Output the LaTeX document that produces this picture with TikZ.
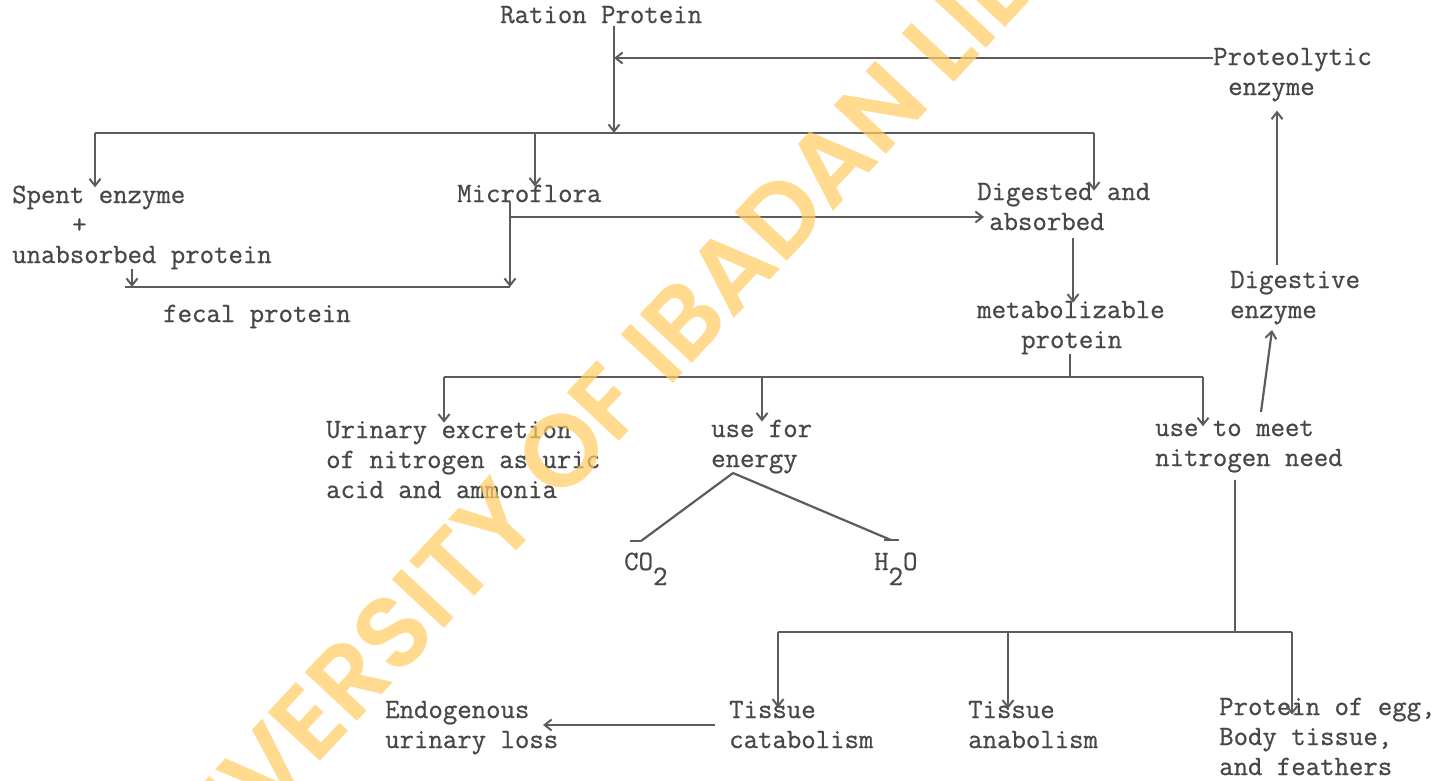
\documentclass[tikz,border=0pt]{standalone}
\usepackage{fontspec}
\IfFontExistsTF{Poppins SemiBold}
  {\newfontfamily\wmfont{Poppins SemiBold}}
  {\newfontfamily\wmfont{Poppins}[FakeBold=6]}
\newfontfamily\tw{Latin Modern Mono}[FakeBold=0.7]
\usetikzlibrary{arrows.meta,calc}
\definecolor{ink}{HTML}{474747}
\definecolor{lin}{HTML}{5C5C5C}
\definecolor{wm}{RGB}{255,205,100}
\begin{document}
\begin{tikzpicture}[x=1pt,y=-1pt,
  lbl/.style={anchor=base west, inner sep=0pt, align=left, text=ink,
              font=\tw\fontsize{28}{30}\selectfont},
  conn/.style={draw=lin, line width=2.2pt},
  arr/.style={conn, -{Straight Barb[length=7pt,width=11pt,line width=2pt]}},
  stub/.style={conn, line cap=butt},
  wmark/.style={rotate=47, anchor=base west, inner sep=0pt, text=wm, text opacity=0.72,
                font=\wmfont\fontsize{102}{102}\selectfont}
]
\useasboundingbox[fill=white] (0,0) rectangle (1450,780);

% ---- labels (anchor = baseline of the last line) ----
\node[lbl] (rp) at (500,23) {Ration Protein};
\node[lbl] (pe) at (1213,95) {Proteolytic\\\hspace*{15pt}enzyme};
\node[lbl] (se) at (12,263) {Spent enzyme\\\hspace*{60pt}+\\unabsorbed protein};
\node[lbl] (mf) at (457,202) {Microflora};
\node[lbl] (da) at (977,230) {Digested and\\\hspace*{12pt}absorbed};
\node[lbl] (fp) at (163,322) {fecal protein};
\node[lbl] (mp) at (977,348) {metabolizable\\\hspace*{44pt}protein};
\node[lbl] (de) at (1230,318) {Digestive\\enzyme};
\node[lbl] (ue) at (326,498) {Urinary excretion\\of nitrogen as uric\\acid and ammonia};
\node[lbl] (uf) at (711,467) {use for\\energy};
\node[lbl] (un) at (1155,466) {use to meet\\nitrogen need};
\node[lbl] (co) at (624,570) {CO\raisebox{-15pt}{2}};
\node[lbl] (ho) at (874,570) {H\raisebox{-15pt}{2}O};
\node[lbl] (eu) at (385,748) {Endogenous\\urinary loss};
\node[lbl] (tc) at (729,748) {Tissue\\catabolism};
\node[lbl] (ta) at (968,748) {Tissue\\anabolism};
\node[lbl] (pg) at (1219,775) {Protein of egg,\\Body tissue,\\and feathers};

% ---- junction coordinates ----
\coordinate (b1l) at (95,133);
\coordinate (b1m) at (535,133);
\coordinate (b1j) at (614,133);
\coordinate (b1r) at (1094,133);
\coordinate (pa)  at ($(pe.base west)+(0,-37)$);
\coordinate (m1)  at (510,217);
\coordinate (fj)  at (510,287);
\coordinate (fl)  at (125,287);
\coordinate (fs)  at (132,287);
\coordinate (b2l) at (444,377);
\coordinate (b2c) at (762,377);
\coordinate (b2m) at (1070,377);
\coordinate (b2r) at (1203,377);
\coordinate (ap)  at (733,473);
\coordinate (cE)  at (641,541);
\coordinate (cS)  at (630,541);
\coordinate (hE)  at (891,540);
\coordinate (hS)  at (899,540);
\coordinate (hS0) at (884,540);
\coordinate (u1)  at (1261,412);
\coordinate (u2)  at (1272,330);
\coordinate (b3l) at (778,632);
\coordinate (b3c) at (1008,632);
\coordinate (b3m) at (1235,632);
\coordinate (b3r) at (1292,632);
\coordinate (t1)  at ($(tc.base west)+(-14,-23)$);
\coordinate (t2)  at ($(eu.base west)+(158,-23)$);

% ---- connectors ----
\draw[arr, shorten <=2pt] (rp.south -| b1j) -- (b1j);
\draw[arr] (pa) -- (pa -| b1j);
\draw[conn] (b1l) -- (b1r);
\draw[arr] (b1l) -- ([yshift=-2pt]b1l |- se.north);
\draw[arr] (b1m) -- ([yshift=-2pt]b1m |- mf.north);
\draw[arr] (b1r) -- ([yshift=-8pt]b1r |- da.north);

\draw[arr] (m1) -- ([xshift=7pt]m1 -| da.west);
\draw[arr] (mf.south -| m1) -- (fj);
\draw[conn] (fl) -- (fj);
\draw[arr] (se.south -| fs) -- (fs);

\draw[arr, shorten <=8pt] (da.south -| 1073,0) -- ([yshift=-2pt]mp.north -| 1073,0);
\draw[conn] (mp.south -| b2m) -- (b2m);
\draw[conn] (b2l) -- (b2r);
\draw[arr] (b2l) -- ([yshift=-2pt]b2l |- ue.north);
\draw[arr] (b2c) -- ([yshift=-2pt]b2c |- uf.north);
\draw[arr] (b2r) -- ([yshift=-6pt]b2r |- un.north);

\draw[conn] (ap) -- (cE);
\draw[stub] (cE) -- (cS);
\draw[conn] (ap) -- (hE);
\draw[stub] (hS0) -- (hS);

\draw[arr] (u1) -- (u2);
\draw[arr, shorten <=6pt, shorten >=9pt] (de.north -| 1277,0) -- (pe.south -| 1277,0);

\draw[conn, shorten <=7pt] (un.south -| b3m) -- (b3m);
\draw[conn] (b3l) -- (b3r);
\draw[arr] (b3l) -- ([yshift=-7pt]b3l |- tc.north);
\draw[arr] (b3c) -- ([yshift=-8pt]b3c |- ta.north);
\draw[arr] (b3r) -- ([yshift=-17pt]b3r |- pg.north);
\draw[arr] (t1) -- (t2);

% ---- watermark ----
\node[wmark] (wmk) at (668,389) {\llap{UNIVERSITY OF\ }IBADAN LIBRARY};
\end{tikzpicture}
\end{document}
